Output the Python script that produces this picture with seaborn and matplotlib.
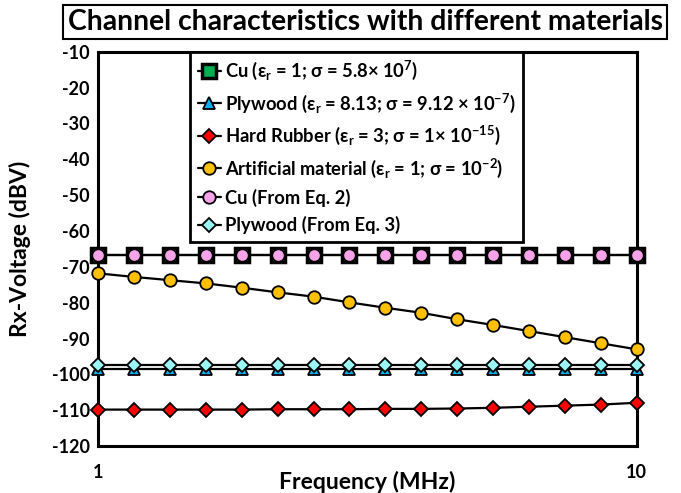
import pandas as pd
import matplotlib
matplotlib.use("Agg")
import matplotlib.pyplot as plt
import seaborn as sns

# frequency points (MHz), evenly spaced on the log axis
freq = [1.000, 1.166, 1.359, 1.585, 1.848, 2.154, 2.512, 2.929,
        3.415, 3.981, 4.642, 5.412, 6.310, 7.356, 8.577, 10.000]

cu = [-66.7] * 16
plywood = [-98.6] * 16
rubber = [-109.8, -109.8, -109.8, -109.8, -109.8, -109.7, -109.7, -109.7,
          -109.6, -109.6, -109.5, -109.3, -109.0, -108.7, -108.4, -107.9]
artificial = [-71.8, -72.8, -73.7, -74.6, -75.8, -77.1, -78.3, -79.9,
              -81.4, -82.8, -84.6, -86.2, -87.9, -89.6, -91.3, -93.0]
cu_eq = [-66.7] * 16
plywood_eq = [-97.4] * 16

labels = [
    r"Cu ($\varepsilon_r$ = 1; $\sigma$ = 5.8$\times$ 10$^7$)",
    r"Plywood ($\varepsilon_r$ = 8.13; $\sigma$ = 9.12 $\times$ 10$^{-7}$)",
    r"Hard Rubber ($\varepsilon_r$ = 3; $\sigma$ = 1$\times$ 10$^{-15}$)",
    r"Artificial material ($\varepsilon_r$ = 1; $\sigma$ = 10$^{-2}$)",
    "Cu (From Eq. 2)",
    "Plywood (From Eq. 3)",
]

sns.set_theme(style="white")
plt.rcParams["font.family"] = ["Lato", "DejaVu Sans"]
plt.rcParams["font.weight"] = "bold"
plt.rcParams["text.color"] = "black"
plt.rcParams["axes.labelcolor"] = "black"
plt.rcParams["xtick.color"] = "black"
plt.rcParams["ytick.color"] = "black"
plt.rcParams["axes.unicode_minus"] = False
plt.rcParams["mathtext.fontset"] = "custom"
plt.rcParams["mathtext.rm"] = "Lato:bold"
plt.rcParams["mathtext.it"] = "Lato:bold"
plt.rcParams["mathtext.bf"] = "Lato:bold"
plt.rcParams["mathtext.default"] = "bf"

fig = plt.figure(figsize=(6.81, 4.93), dpi=100)
ax = fig.add_axes([0.144, 0.095, 0.791, 0.8])

series = [
    (cu, "s", "#00B050", 9.5, 2.5),
    (plywood, "^", "#00B0F0", 9, 1.3),
    (rubber, "D", "#FF0000", 7, 1.3),
    (artificial, "o", "#FFC000", 9, 1.3),
    (cu_eq, "o", "#F7A3EA", 9, 1.3),
    (plywood_eq, "D", "#9BF5F5", 7, 1.3),
]

for (vals, mk, fc, ms, mew), lab in zip(series, labels):
    sns.lineplot(x=freq, y=vals, ax=ax, color="black", linewidth=1.6,
                 marker=mk, markersize=ms, markerfacecolor=fc,
                 markeredgecolor="black", markeredgewidth=mew, label=lab,
                 clip_on=False, zorder=3)

ax.set_xscale("log")
ax.set_xlim(1, 10)
ax.set_ylim(-120, -10)
ax.set_xticks([1, 10])
ax.set_xticklabels(["1", "10"])
ax.minorticks_off()
ax.set_yticks(range(-120, 0, 10))
ax.tick_params(axis="both", length=0, labelsize=13)
ax.tick_params(axis="x", pad=13)
ax.tick_params(axis="y", pad=6)
for s in ax.spines.values():
    s.set_linewidth(2.2)
    s.set_color("black")

ax.set_xlabel("Frequency (MHz)", fontsize=16.5, fontweight="bold")
ax.set_ylabel("Rx-Voltage (dBV)", fontsize=16.5, fontweight="bold")
ax.xaxis.set_label_coords(0.5, -0.062)
ax.yaxis.set_label_coords(-0.125, 0.5)

leg = ax.legend(loc="upper left", bbox_to_anchor=(0.171, 1.0), fontsize=13.2,
                frameon=True, fancybox=False, framealpha=1, edgecolor="black",
                handlelength=1.3, handletextpad=0.2, labelspacing=0.5,
                borderpad=0.4, borderaxespad=0)
leg.get_frame().set_linewidth(2)

fig.text(0.536, 0.955, "Channel characteristics with different materials",
         ha="center", va="center", fontsize=20.3, fontweight="bold",
         bbox=dict(boxstyle="square,pad=0.15", fc="white", ec="black", lw=1.5))

fig.savefig("out.png", dpi=100)
